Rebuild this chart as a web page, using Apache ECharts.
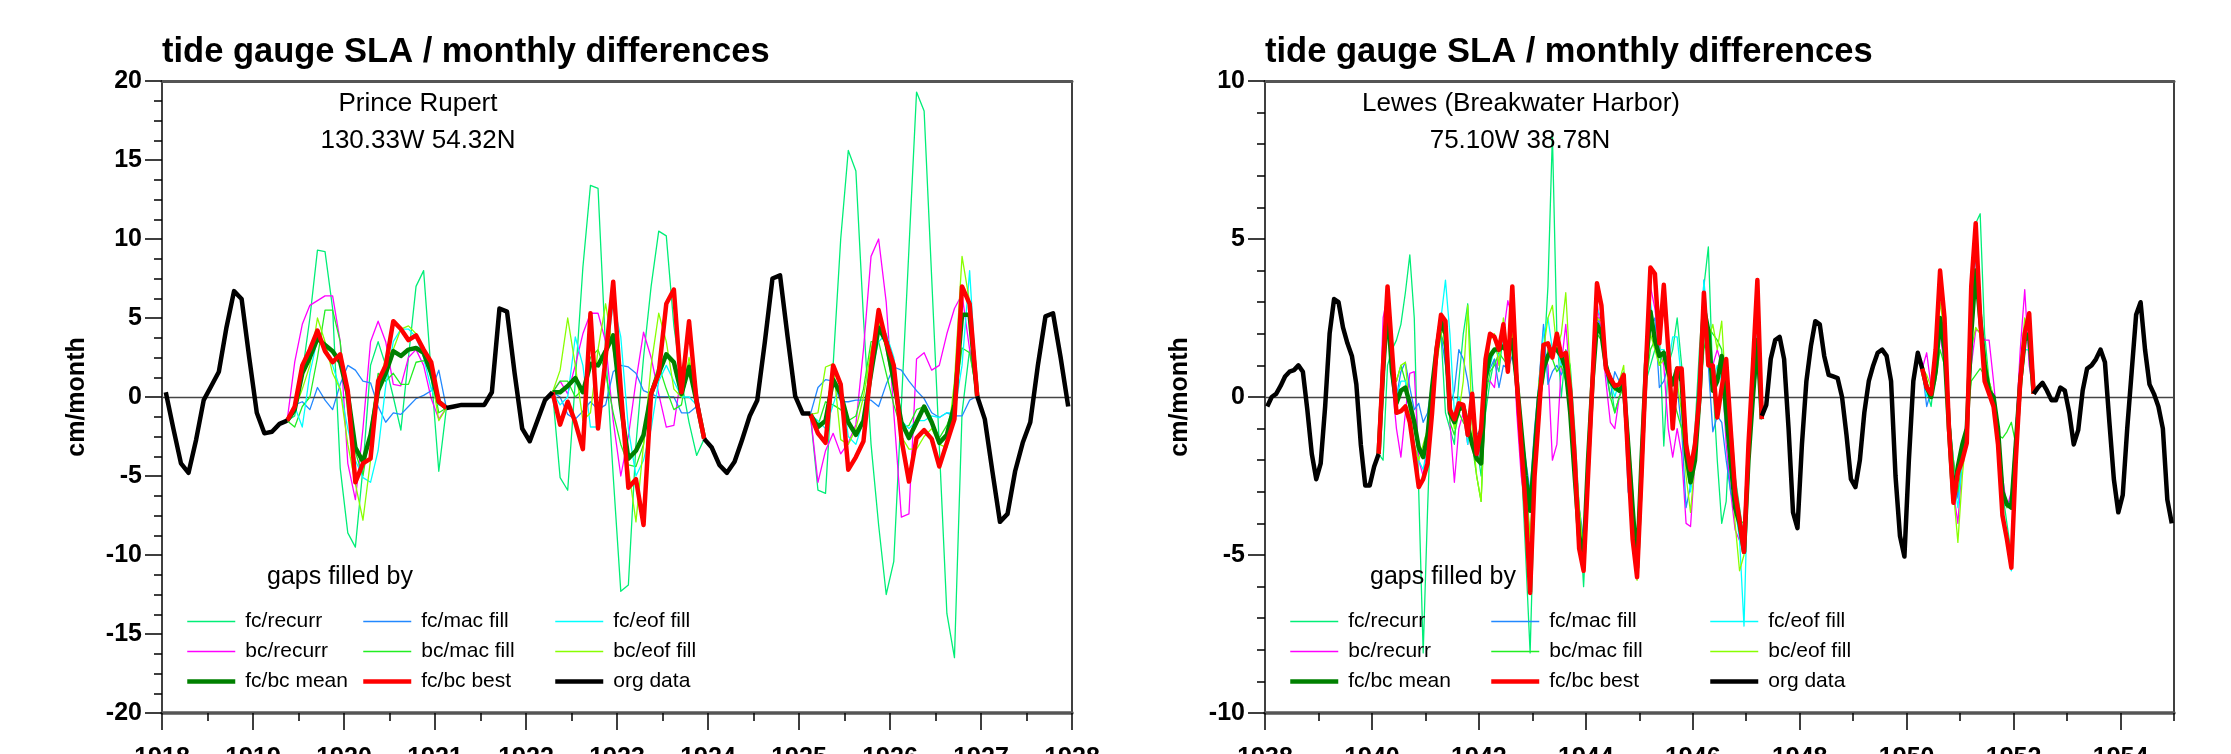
<!DOCTYPE html>
<html><head><meta charset="utf-8">
<script src="https://cdn.jsdelivr.net/npm/echarts@6/dist/echarts.min.js"></script>
<style>html,body{margin:0;padding:0;background:#fff}#c{width:2231px;height:754px}</style>
</head><body><div id="c"></div>
<script>
// ---------------- DATA ----------------
// Prince Rupert (left), monthly values, month k -> year 1918 + (k+0.5)/12
const L_START = 1918, L_N = 120;
const L_xTicks = [1918, 1928, 1];
const L_yTicks = [-20, 20, 5];
const L_orgStart = [0, 37, 71, 107];
const L_org = [
  [0.3,-2.0,-4.2,-4.8,-2.7,-0.2,0.7,1.6,4.4,6.7,6.2,2.5,-1.0,-2.3,-2.2,-1.7,-1.5],
  [-0.7,-0.6,-0.5,-0.5,-0.5,-0.5,0.3,5.6,5.4,1.5,-2.0,-2.8,-1.5,-0.2,0.3],
  [-2.65,-3.2,-4.3,-4.8,-4.1,-2.7,-1.2,-0.2,3.5,7.5,7.7,3.8,0.05,-1.05,-1.05],
  [0.05,-1.4,-4.7,-7.9,-7.4,-4.7,-2.9,-1.6,2.0,5.1,5.3,2.5,-0.6]
];
const L_gapStart = [16, 51, 85];
const L_best = [
  [-1.5,-0.6,2.0,3.0,4.2,2.9,2.2,2.7,0.4,-5.4,-4.2,-3.9,1.0,2.0,4.8,4.3,3.6,3.9,3.0,2.2,-0.3,-0.7],
  [0.3,-1.75,-0.3,-1.6,-3.3,5.3,-2.0,2.5,7.3,0.5,-5.75,-5.2,-8.1,0.2,1.5,5.9,6.8,0.3,4.8,-0.3,-2.65],
  [-1.1,-2.3,-2.9,2.0,0.8,-4.6,-3.8,-2.8,1.9,5.5,3.5,2.0,-2.65,-5.35,-2.6,-2.1,-2.65,-4.4,-2.9,-1.4,7.0,5.9,0.05]
];
const L_mean = [
  [-1.5,-0.8,1.5,2.5,3.7,3.3,2.9,2.2,0.2,-3.2,-4.1,-2.4,0.4,1.5,2.9,2.6,3.0,3.1,2.8,1.5,-0.3,-0.7],
  [0.3,0.3,0.7,1.2,0.3,2.1,2.0,2.9,3.9,-0.5,-3.9,-3.4,-2.4,0.2,1.5,2.7,2.2,0.2,1.9,-0.3,-2.65],
  [-1.1,-1.9,-1.5,1.1,0.2,-1.6,-2.4,-1.5,1.5,4.4,3.5,1.0,-1.6,-2.6,-1.6,-0.6,-1.6,-2.9,-2.4,-0.5,5.2,5.2,0.05]
];
const L_fcRecurr = [
  [-1.5,-1.2,1.5,5.0,9.3,9.2,5.6,-4.5,-8.6,-9.5,-4.5,2.0,3.5,2.0,0.0,-2.1,2.5,7.0,8.0,1.5,-4.7,-0.7],
  [0.3,-5.1,-5.9,1.0,8.2,13.4,13.2,3.0,-5.0,-12.3,-11.9,-3.0,2.5,7.0,10.5,10.2,4.5,1.0,-1.6,-3.7,-2.65],
  [-1.1,-5.9,-6.1,2.0,10.0,15.6,14.3,5.0,-3.0,-8.1,-12.5,-10.4,-0.5,9.4,19.3,18.1,7.5,-3.1,-13.7,-16.5,-1.0,3.0,0.05]
];
const L_bcRecurr = [
  [-1.5,2.2,4.6,5.8,6.1,6.4,6.4,3.5,-4.2,-6.5,-2.0,3.5,4.8,3.5,0.8,0.7,2.5,3.0,2.0,-0.1,-1.4,-0.7],
  [0.3,1.0,0.2,2.0,4.0,5.3,5.3,3.5,-1.5,-5.0,-2.5,1.0,4.1,2.5,0.2,-1.9,-1.8,1.5,4.0,0.5,-2.65],
  [-1.1,-5.4,-3.4,-2.3,-3.6,-2.9,-1.75,3.0,8.9,10.0,6.0,-1.0,-7.6,-7.4,2.4,2.8,1.7,2.0,4.0,5.6,6.5,3.0,0.05]
];
const L_fcMac = [
  [-1.5,-0.5,-0.3,-0.8,0.6,-0.2,-0.8,0.8,2.0,1.7,1.0,0.9,-0.6,-1.6,-1.0,-1.1,-0.6,-0.1,0.1,0.4,1.7,-0.7],
  [0.3,0.0,-1.1,-1.4,-0.9,-0.3,-0.8,-0.5,1.6,2.0,1.9,1.5,0.4,0.2,0.0,0.0,0.0,-1.0,-1.0,-0.6,-2.65],
  [-1.1,0.6,1.1,1.0,-0.3,-0.3,-0.2,-0.2,-0.2,-0.6,0.8,1.9,1.7,1.0,0.4,-0.1,-1.0,-1.3,-1.0,-1.2,-1.2,-0.2,0.05]
];
const L_bcMac = [
  [-1.5,-1.9,-0.6,0.0,2.5,5.5,5.5,3.5,-1.0,-3.5,-5.0,-2.0,1.5,1.0,1.5,0.8,0.8,2.2,2.3,1.5,-1.0,-0.7],
  [0.3,1.0,1.0,0.0,0.5,2.5,3.0,1.5,-1.0,-3.0,-4.3,-4.4,-3.0,0.5,2.0,0.5,-0.8,-0.5,2.2,0.0,-2.65],
  [-1.1,-1.8,-0.3,-0.5,-0.8,-1.5,-1.2,0.5,3.5,3.5,1.5,-0.5,-2.0,-1.8,-0.8,-0.6,-1.5,-2.6,-1.8,-0.5,3.1,2.8,0.05]
];
const L_fcEof = [
  [-1.5,-0.6,-1.9,1.5,3.7,3.3,2.0,0.5,-2.0,-4.0,-5.1,-5.4,-3.4,0.7,3.5,4.3,4.3,3.8,2.5,0.5,-0.5,-0.7],
  [0.3,-0.5,0.0,3.8,2.0,-1.9,-1.9,2.0,6.0,3.8,-2.0,-5.0,-4.0,-2.0,1.0,2.0,1.0,0.0,0.0,-0.5,-2.65],
  [-1.1,-1.5,-2.0,-0.5,1.0,-2.5,-3.0,-1.5,1.5,3.5,4.0,2.5,-1.5,-2.0,-1.5,-1.5,-1.2,-1.3,-1.0,-1.0,2.0,8.0,0.05]
];
const L_bcEof = [
  [-1.5,-0.8,0.5,2.0,5.0,3.5,1.5,0.5,-3.0,-5.5,-7.8,-4.0,0.5,2.5,3.0,4.3,4.5,4.0,3.0,1.5,-1.5,-0.7],
  [0.3,1.7,5.0,2.0,-1.5,-1.0,3.0,5.9,3.0,0.0,-4.5,-7.9,-3.0,2.0,5.3,3.5,0.5,0.0,2.5,0.0,-2.65],
  [-1.1,-1.0,1.9,2.1,-2.7,-3.0,-2.0,0.0,3.0,4.8,3.0,0.5,-2.5,-3.3,-3.3,-2.5,-2.0,-3.0,-3.2,1.0,8.9,6.0,0.05]
];

// Lewes (right), month k -> year 1938 + (k+0.5)/12
const R_START = 1938, R_N = 204;
const R_xTicks = [1938, 1955, 2];
const R_yTicks = [-10, 10, 5];
const R_orgStart = [0, 111, 172];
const R_org = [
  [-0.3,0.0,0.1,0.35,0.65,0.8,0.85,1.0,0.8,-0.4,-1.8,-2.6,-2.1,-0.3,2.0,3.1,3.0,2.2,1.7,1.3,0.4,-1.5,-2.8,-2.8,-2.2,-1.8],
  [-0.6,-0.25,1.2,1.8,1.9,1.2,-1.0,-3.65,-4.15,-1.5,0.5,1.6,2.4,2.3,1.3,0.7,0.65,0.6,0.0,-1.2,-2.6,-2.85,-2.0,-0.5,0.5,1.0,1.4,1.5,1.3,0.5,-2.5,-4.4,-5.05,-2.0,0.5,1.4,0.9],
  [0.1,0.3,0.45,0.2,-0.1,-0.1,0.3,0.2,-0.5,-1.5,-1.05,0.2,0.9,1.0,1.2,1.5,1.1,-0.8,-2.6,-3.65,-3.1,-1.0,0.8,2.6,3.0,1.5,0.4,0.1,-0.3,-1.0,-3.25,-4.0]
];
const R_gapStart = [25, 147];
const R_best = [
  [-1.8,1.0,3.5,1.5,-0.5,-0.45,-0.3,-0.8,-1.8,-2.85, -2.6,-2.1,-0.5,1.5,2.6,2.4,-0.4,-0.7,-0.2,-0.25,
   -1.2,0.1,-1.8,-1.0,1.2,2.0,1.9,1.5,2.3,0.8, 3.5,0.5,-1.5,-3.5,-6.2,-2.5,-0.5,1.65,1.7,1.25,
   2.0,1.3,1.4,0.2,-1.9,-4.8,-5.5,-2.5,0.5,3.6, 2.9,0.9,0.6,0.35,0.4,0.7,-2.0,-4.5,-5.7,-2.5,
   1.0,4.1,3.9,1.7,3.55,1.5,-1.0,0.9,0.9,-1.5, -2.3,-1.5,0.0,3.3,1.0,1.0,-0.65,0.3,1.2,-1.0,
   -3.0,-3.9,-4.9,-1.5,1.0,3.7,-0.7],
  [0.9,0.3,0.1,1.5,4.0,2.5,-1.0,-3.35,-2.4,-2.0,-1.45,3.5,5.5,2.5,0.5,0.1,-0.3,-1.5,-3.75,-4.5,-5.4,-2.0,0.5,2.0,2.65,0.1]
];
const R_mean = [
  [-1.8,0.8,2.9,0.8,-0.2,0.2,0.3,-0.2,-0.8,-1.6, -1.9,-1.2,0.3,1.5,2.4,2.0,-0.5,-0.8,-0.4,-0.3,
   -0.9,-1.5,-1.95,-2.1,0.6,1.3,1.5,1.5,1.6,1.4, 1.8,0.5,-1.0,-2.5,-3.6,-1.8,0.0,0.9,1.3,1.5,
   1.5,1.3,0.9,-0.5,-2.5,-4.4,-5.1,-2.0,0.5,2.3, 2.0,1.0,0.5,0.3,0.2,0.4,-1.5,-3.5,-5.4,-2.0,
   1.0,2.7,1.8,1.3,1.4,0.8,0.4,0.9,0.5,-1.8, -2.7,-2.0,0.0,2.8,2.1,0.2,0.5,1.3,-0.5,-2.0,
   -3.5,-4.0,-4.9,-2.0,0.0,1.8,-0.7],
  [0.9,0.3,0.0,0.8,2.5,1.5,-1.0,-3.2,-2.2,-1.5,-1.0,2.0,4.0,2.5,1.0,0.2,0.0,-1.0,-3.0,-3.4,-3.5,-1.5,0.5,1.8,2.0,0.1]
];
const R_fcRecurr = [
  [-1.8,-2.0,1.0,1.5,1.8,2.3,3.3,4.5,2.5,-3.0, -8.1,-3.5,0.5,1.5,2.0,-0.5,-1.0,-1.5,0.5,2.0,
   2.95,0.5,-1.5,-2.5,-0.5,0.5,1.2,0.8,2.0,1.5, 2.8,1.0,-2.0,-5.0,-8.1,-3.0,0.5,1.0,3.5,8.3,
   2.0,0.0,1.5,1.0,-1.0,-3.5,-6.0,-3.0,0.0,2.5, 2.5,1.0,0.5,-0.5,0.0,0.5,-1.5,-4.0,-5.5,-3.0,
   0.5,1.0,1.5,2.0,-1.55,1.0,1.5,2.5,1.0,-1.0, -2.5,-1.0,1.5,3.5,4.75,0.5,-2.0,-4.0,-3.3,-0.5,
   -2.5,-3.5,-4.5,-2.0,0.5,2.0,-0.7],
  [0.9,0.2,-0.3,1.0,2.5,1.5,-1.5,-3.0,-2.5,-1.5,-1.0,2.5,5.5,5.8,2.0,0.5,0.0,-1.0,-3.0,-4.0,-5.0,-2.0,0.5,2.0,2.2,0.1]
];
const R_bcRecurr = [
  [-1.8,2.5,3.2,0.5,-1.0,-1.9,-0.5,0.75,0.8,-2.0, -2.5,-1.5,-0.5,1.0,2.2,2.0,-0.8,-2.7,-1.0,-0.5,
   -1.5,-0.5,-2.0,-1.5,0.5,0.5,0.3,1.5,2.0,3.05, 2.5,-0.5,-2.5,-3.5,-5.0,-2.0,0.0,1.5,1.0,-2.0,
   -1.5,1.0,2.3,0.5,-1.5,-4.0,-4.8,-2.5,0.5,3.0, 2.0,0.5,-0.8,-1.0,0.0,0.5,-1.5,-4.0,-5.2,-2.5,
   1.5,3.5,2.8,1.5,1.0,-1.0,-1.9,-1.0,-1.8,-4.0, -4.1,-2.0,1.0,3.0,1.5,1.0,1.5,1.0,-1.5,-3.0,
   -4.2,-4.55,-4.0,-1.5,0.0,1.5,-0.7],
  [0.9,1.4,0.3,0.8,2.0,1.0,-1.0,-3.0,-4.0,-2.0,-0.5,1.0,2.1,2.1,1.8,1.8,0.5,-1.0,-2.5,-3.5,-3.0,-1.0,1.5,3.4,1.0,0.1]
];
const R_fcMac = [
  [-1.8,1.5,2.8,0.5,0.0,0.8,1.1,0.3,-0.4,-0.2, -0.8,-0.5,0.5,1.5,2.0,1.0,-0.3,0.2,1.5,1.2,
   0.5,-0.5,-1.2,-1.0,0.5,0.9,1.2,0.3,1.0,0.9, 1.3,0.3,-1.0,-2.0,-3.0,-1.0,0.5,2.3,0.4,0.8,
   1.0,0.7,1.0,0.5,-1.5,-3.5,-4.5,-2.0,0.8,2.5, 2.2,0.8,0.0,0.8,0.5,0.2,-3.0,-3.5,-5.2,-1.5,
   1.5,2.2,2.5,0.3,0.5,1.0,0.0,0.3,-1.0,-3.5, -2.8,-1.5,0.5,3.7,1.0,-1.1,-0.6,-0.8,-2.0,-3.0,
   -3.5,-4.0,-4.6,-1.5,0.0,1.0,-0.7],
  [0.9,-0.3,0.2,1.0,2.5,1.5,-0.5,-2.0,-3.2,-2.0,-1.0,3.0,4.5,2.0,0.5,0.2,0.0,-1.5,-3.0,-3.5,-3.2,-1.0,1.0,2.0,1.8,0.1]
];
const R_bcMac = [
  [-1.8,1.0,2.5,0.5,0.5,1.0,0.5,-0.3,-1.0,-1.5, -1.8,-1.0,0.0,1.2,2.0,1.5,-0.8,-1.2,-0.5,-0.8,
   -1.0,-1.5,-2.5,-3.3,0.0,0.8,1.0,1.4,1.2,1.0, 1.8,0.5,-1.0,-2.5,-4.5,-2.0,0.0,0.5,1.5,1.2,
   0.8,1.0,0.5,-0.5,-2.0,-3.5,-5.0,-2.5,0.5,2.0, 1.8,1.0,0.0,-0.5,0.0,0.3,-1.0,-3.0,-5.7,-2.5,
   0.5,1.5,1.8,1.0,1.5,0.8,0.0,-0.5,-1.0,-2.0, -2.5,-2.0,0.0,1.5,2.2,2.0,1.8,1.5,-1.0,-2.5,
   -3.5,-3.9,-4.0,-2.0,0.0,1.5,-0.7],
  [0.9,0.5,0.0,0.5,1.5,1.0,-0.5,-2.0,-3.0,-2.0,-1.0,0.5,0.7,0.9,0.7,0.3,-0.5,-1.2,-1.3,-1.1,-0.8,-1.5,0.0,1.5,1.5,0.1]
];
const R_fcEof = [
  [-1.8,1.0,3.0,1.0,0.0,0.5,0.5,-0.5,-1.5,-2.0, -2.3,-1.5,0.0,1.5,2.5,3.7,2.0,-0.5,0.0,-0.5,
   -1.5,-0.5,-1.5,-1.5,0.5,1.0,1.5,1.3,1.8,1.5, 2.5,1.0,-1.0,-3.0,-5.5,-2.0,0.5,2.0,2.5,1.5,
   1.5,1.0,1.2,0.0,-2.0,-4.0,-5.5,-2.5,0.5,2.8, 2.5,1.0,0.5,0.0,0.5,0.8,-1.5,-4.0,-5.6,-2.0,
   1.5,3.0,2.0,1.5,1.5,1.0,1.9,1.9,0.5,-2.0, -3.0,-2.0,1.0,3.7,2.0,0.5,1.0,0.5,-1.0,-2.5,
   -3.5,-4.5,-7.25,-2.0,0.5,2.0,-0.7],
  [0.9,0.0,0.2,1.0,2.3,1.5,-1.0,-2.5,-3.5,-2.0,-1.0,2.0,4.0,3.0,1.0,0.2,-0.2,-1.5,-3.5,-4.5,-5.5,-2.0,0.5,1.5,1.5,0.1]
];
const R_bcEof = [
  [-1.8,0.5,3.5,1.0,0.5,1.0,1.1,-0.5,-1.5,-2.0, -1.5,-1.0,0.0,1.0,2.0,2.2,0.0,-1.0,-0.5,0.5,
   2.9,-1.0,-2.5,-3.3,0.5,1.8,2.0,1.0,2.5,1.5, 2.0,0.5,-1.5,-3.0,-4.5,-2.0,0.5,1.5,2.5,2.9,
   1.5,2.0,3.3,0.8,-1.5,-3.5,-5.0,-2.0,0.5,2.5, 2.4,1.2,0.5,0.2,0.5,1.0,-1.5,-3.5,-5.8,-2.5,
   0.5,2.0,1.5,1.0,1.2,0.5,0.0,0.5,-0.5,-2.5, -3.65,-2.0,0.5,2.5,1.8,2.3,1.5,2.4,0.0,-2.0,
   -4.0,-5.5,-5.0,-2.0,0.0,1.5,-0.7],
  [0.9,0.7,0.3,1.0,3.0,2.0,-1.0,-3.0,-4.6,-2.5,-1.0,1.5,2.2,2.0,1.5,0.5,0.0,-1.5,-3.0,-3.5,-3.3,-1.0,1.0,2.5,2.0,0.1]
];

// ---------------- BUILD ----------------
const FONT = '"Liberation Sans", Arial, Helvetica, sans-serif';
function place(n, starts, segs) {
  const a = new Array(n).fill(null);
  segs.forEach((s, i) => s.forEach((v, j) => { a[starts[i] + j] = v; }));
  return a;
}
function toXY(y0, arr) { return arr.map((v, k) => [y0 + (k + 0.5) / 12, v]); }

const DEFS = [
  { name: 'fc/recurr',   color: '#00ee77', w: 1.3, L: L_fcRecurr, R: R_fcRecurr },
  { name: 'bc/recurr',   color: '#ff00ff', w: 1.3, L: L_bcRecurr, R: R_bcRecurr },
  { name: 'fc/mac fill', color: '#2288ff', w: 1.3, L: L_fcMac,    R: R_fcMac },
  { name: 'bc/mac fill', color: '#22ee22', w: 1.3, L: L_bcMac,    R: R_bcMac },
  { name: 'fc/eof fill', color: '#00ffff', w: 1.3, L: L_fcEof,    R: R_fcEof },
  { name: 'bc/eof fill', color: '#88ff00', w: 1.3, L: L_bcEof,    R: R_bcEof },
  { name: 'fc/bc mean',  color: '#008000', w: 4.5, L: L_mean,     R: R_mean },
  { name: 'fc/bc best',  color: '#ff0000', w: 4.5, L: L_best,     R: R_best }
];

const series = [];
function addPlot(side, xi, yi) {
  const y0 = side === 'L' ? L_START : R_START;
  const n = side === 'L' ? L_N : R_N;
  const gs = side === 'L' ? L_gapStart : R_gapStart;
  DEFS.forEach((d, i) => {
    series.push({
      type: 'line', name: d.name, xAxisIndex: xi, yAxisIndex: yi,
      data: toXY(y0, place(n, gs, d[side])),
      symbol: 'none', showSymbol: false, connectNulls: false, silent: true,
      lineStyle: { color: d.color, width: d.w, join: 'round' },
      itemStyle: { color: d.color }, z: 2 + i
    });
  });
  series.push({
    type: 'line', name: 'org data', xAxisIndex: xi, yAxisIndex: yi,
    data: toXY(y0, place(n, side === 'L' ? L_orgStart : R_orgStart, side === 'L' ? L_org : R_org)),
    symbol: 'none', showSymbol: false, connectNulls: false, silent: true,
    lineStyle: { color: '#000', width: 4.5, join: 'round' }, itemStyle: { color: '#000' }, z: 12,
    markLine: { silent: true, symbol: ['none', 'none'], label: { show: false },
      lineStyle: { color: '#444', width: 1.4, type: 'solid' }, data: [{ yAxis: 0 }] }
  });
}
addPlot('L', 0, 0);
addPlot('R', 2, 2);

const tickLab = { show: true, fontSize: 25, fontWeight: 'bold', fontFamily: FONT, color: '#000' };
const tk = { lineStyle: { color: '#000', width: 1.5 } };
function bottomX(grid, t, extra) {
  return Object.assign({
    type: 'value', gridIndex: grid, position: 'bottom', min: t[0], max: t[1], interval: t[2],
    axisLine: { show: true, onZero: false, lineStyle: { color: '#555', width: 3.5 } },
    axisTick: Object.assign({ show: true, length: 17 }, tk),
    axisLabel: Object.assign({ margin: 33, formatter: v => String(v) }, tickLab),
    splitLine: { show: false }
  }, extra);
}
function topX(grid, t) {
  return { type: 'value', gridIndex: grid, position: 'top', min: t[0], max: t[1], interval: t[2],
    axisLine: { show: true, onZero: false, lineStyle: { color: '#555', width: 3 } },
    axisTick: { show: false }, axisLabel: { show: false }, splitLine: { show: false } };
}
function leftY(grid, t, minorSplit) {
  return { type: 'value', gridIndex: grid, position: 'left', min: t[0], max: t[1], interval: t[2],
    axisLine: { show: true, onZero: false, lineStyle: { color: '#000', width: 1.5 } },
    axisTick: Object.assign({ show: true, length: 17 }, tk),
    minorTick: Object.assign({ show: true, splitNumber: minorSplit, length: 8 }, tk),
    axisLabel: Object.assign({ margin: 20 }, tickLab),
    splitLine: { show: false },
    name: 'cm/month', nameLocation: 'middle', nameGap: 72,
    nameTextStyle: { fontSize: 25, fontWeight: 'bold', fontFamily: FONT, color: '#000' } };
}
function rightY(grid, t) {
  return { type: 'value', gridIndex: grid, position: 'right', min: t[0], max: t[1], interval: t[2],
    axisLine: { show: true, onZero: false, lineStyle: { color: '#000', width: 1.5 } },
    axisTick: { show: false }, axisLabel: { show: false }, splitLine: { show: false } };
}

const xAxis = [
  bottomX(0, L_xTicks, { minorTick: Object.assign({ show: true, splitNumber: 2, length: 8 }, tk) }),
  topX(0, L_xTicks),
  bottomX(1, R_xTicks, { axisLabel: Object.assign({ margin: 33, showMaxLabel: false, formatter: v => String(v) }, tickLab) }),
  topX(1, R_xTicks),
  { type: 'value', gridIndex: 2, position: 'bottom', min: R_xTicks[0], max: R_xTicks[1], interval: 1,
    axisLine: { show: false, onZero: false }, axisTick: Object.assign({ show: true, length: 8 }, tk),
    axisLabel: { show: false }, splitLine: { show: false } }
];
const yAxis = [
  leftY(0, L_yTicks, 4), rightY(0, L_yTicks),
  leftY(1, R_yTicks, 5), rightY(1, R_yTicks),
  { type: 'value', gridIndex: 2, min: R_yTicks[0], max: R_yTicks[1], show: false }
];

function legendCol(left, names) {
  return { orient: 'vertical', left: left, top: 611, itemWidth: 48, itemHeight: 14, itemGap: 9,
    padding: 0, selectedMode: false, data: names,
    lineStyle: { width: 'inherit' }, itemStyle: { opacity: 0 },
    textStyle: { fontSize: 21, fontFamily: FONT, color: '#000', lineHeight: 21, padding: [0, 0, 0, 5] } };
}
const COL1 = ['fc/recurr', 'bc/recurr', 'fc/bc mean'];
const COL2 = ['fc/mac fill', 'bc/mac fill', 'fc/bc best'];
const COL3 = ['fc/eof fill', 'bc/eof fill', 'org data'];
const legend = [
  legendCol(185, COL1), legendCol(361, COL2), legendCol(553, COL3),
  legendCol(1288, COL1), legendCol(1489, COL2), legendCol(1708, COL3)
];

function txt(x, y, s, font, align) {
  return { type: 'text', x: x, y: y, silent: true, z: 100,
    style: { text: s, font: font, fill: '#000', align: align || 'center', verticalAlign: 'middle' } };
}
const TITLE_F = 'bold 34.5px ' + FONT, LAB_F = '26px ' + FONT, GAP_F = '25px ' + FONT;
const graphic = [
  txt(162, 52, 'tide gauge SLA / monthly differences', TITLE_F, 'left'),
  txt(1265, 52, 'tide gauge SLA / monthly differences', TITLE_F, 'left'),
  txt(418, 104, 'Prince Rupert', LAB_F), txt(418, 141, '130.33W 54.32N', LAB_F),
  txt(1521, 104, 'Lewes (Breakwater Harbor)', LAB_F), txt(1520, 141, '75.10W 38.78N', LAB_F),
  txt(267, 577, 'gaps filled by', GAP_F, 'left'), txt(1370, 577, 'gaps filled by', GAP_F, 'left')
];

const chart = echarts.init(document.getElementById('c'), null, { renderer: 'canvas' });
chart.setOption({
  animation: false, backgroundColor: '#fff',
  grid: [
    { left: 162, top: 81, width: 910, height: 632, outerBoundsMode: 'none', containLabel: false },
    { left: 1265, top: 81, width: 909, height: 632, outerBoundsMode: 'none', containLabel: false },
    { left: 1265, top: 81, width: 909, height: 632, outerBoundsMode: 'none', containLabel: false }
  ],
  xAxis: xAxis, yAxis: yAxis, legend: legend, graphic: graphic, series: series
});
</script></body></html>
